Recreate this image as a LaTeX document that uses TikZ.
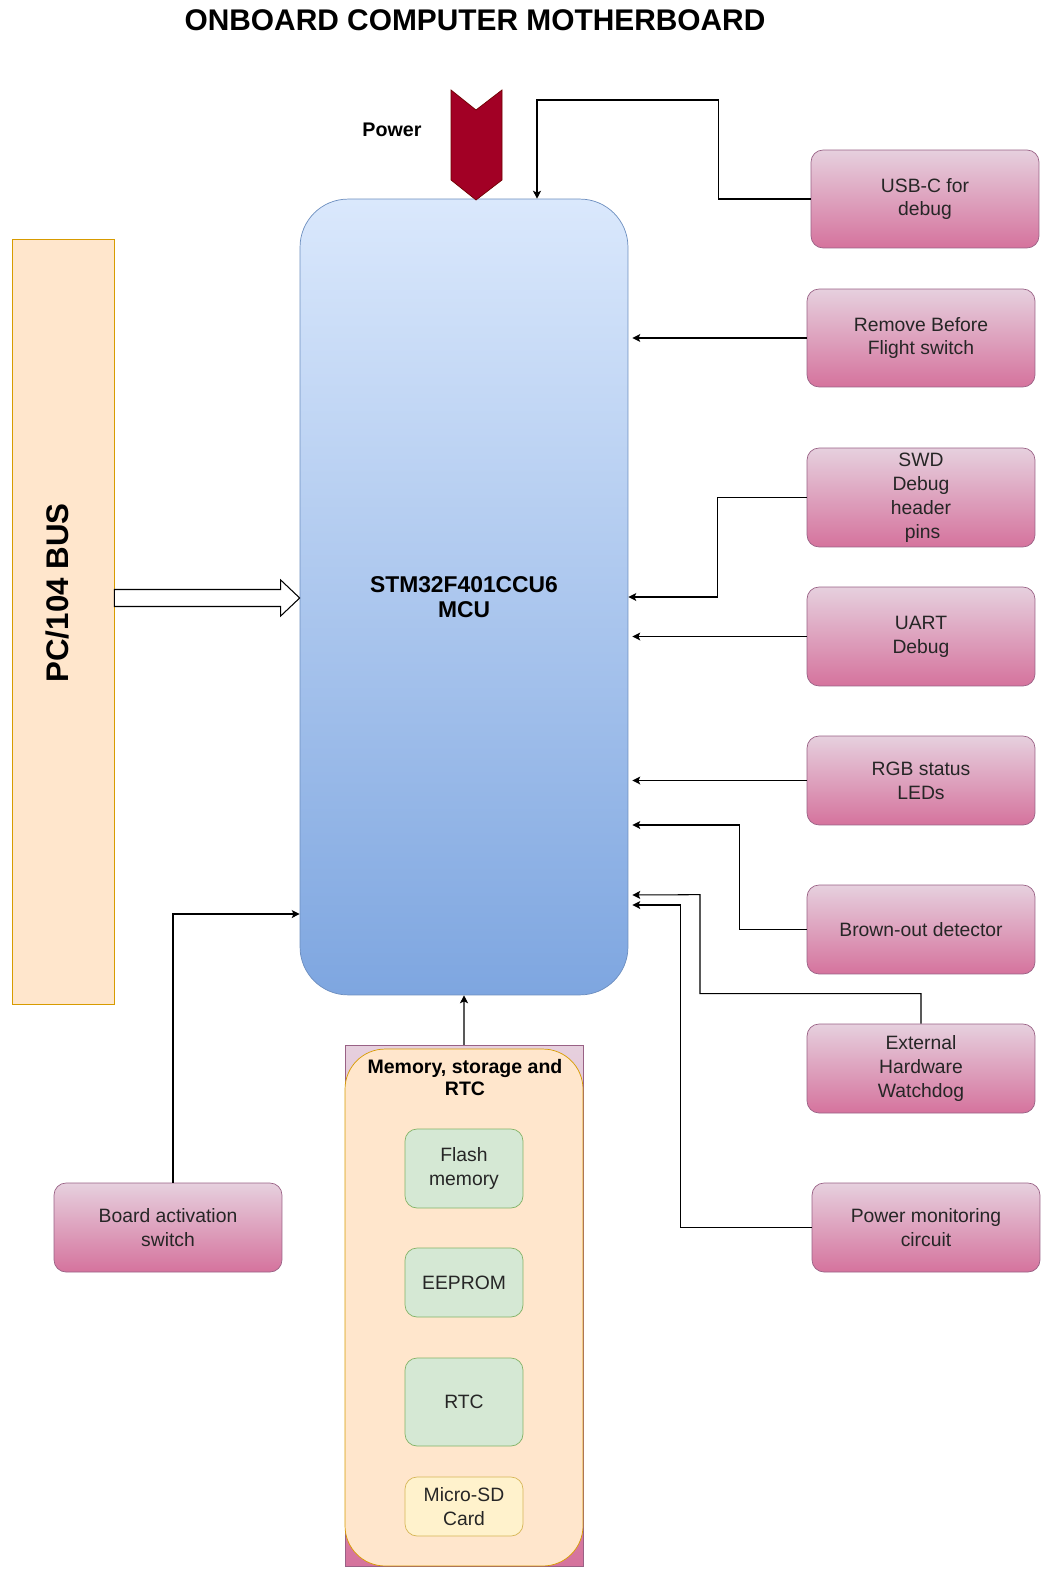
\documentclass[tikz,border=0pt]{standalone}
\usepackage{fontspec}
\setmainfont{Liberation Sans}
\usetikzlibrary{arrows.meta,calc}
\definecolor{mcuTop}{HTML}{DAE8FC}
\definecolor{mcuBot}{HTML}{7EA6E0}
\definecolor{mcuLine}{HTML}{6C8EBF}
\definecolor{pinkTop}{HTML}{E6D0DE}
\definecolor{pinkBot}{HTML}{D5739D}
\definecolor{pinkLine}{HTML}{996185}
\definecolor{orFill}{HTML}{FFE6CC}
\definecolor{orLine}{HTML}{D79B00}
\definecolor{grFill}{HTML}{D5E8D4}
\definecolor{grLine}{HTML}{82B366}
\definecolor{ylFill}{HTML}{FFF2CC}
\definecolor{ylLine}{HTML}{D6B656}
\definecolor{pwFill}{HTML}{A20025}
\definecolor{pwLine}{HTML}{6F0000}
\tikzset{
	txt/.style={font=\fontsize{11}{13.6}\selectfont,text=black!85,align=center},
	khung/.style={txt,draw=pinkLine,top color=pinkTop,bottom color=pinkBot,rounded corners=0.24cm,minimum width=4.56cm,inner sep=1pt},
	memkhung/.style={txt,rounded corners=0.24cm,minimum width=2.36cm,inner sep=1pt},
	muiten/.style={->,line width=0.6pt}
}
\begin{document}
\begin{tikzpicture}[>={Stealth[length=4.5pt,width=4.5pt,inset=1pt]},x=0.02cm,y=-0.02cm]
	\useasboundingbox (0,0) rectangle (1048,1577);
	%Tieu de
	\node (title) at (475,20) {\bfseries\fontsize{17}{20}\selectfont ONBOARD COMPUTER MOTHERBOARD};
	%Khung PC/104
	\node[draw=orLine,fill=orFill,minimum width=2.04cm,minimum height=15.3cm] (bus) at (63,621.5) {};
	\node[rotate=90,font=\bfseries\fontsize{17.8}{20}\selectfont] (buslabel) at (57,593) {PC/104 BUS};
	%Khung MCU
	\node[txt,draw=mcuLine,top color=mcuTop,bottom color=mcuBot,rounded corners=0.96cm,minimum width=6.56cm,minimum height=15.92cm,font=\bfseries\fontsize{13}{14.5}\selectfont,text=black] (mcu) at (464,597) {STM32F401CCU6\\MCU};
	%Power
	\draw[draw=pwLine,fill=pwFill] (451,90) -- (476,110) -- (502,90) -- (502,180) -- (476,200) -- (451,180) -- cycle;
	\node[font=\bfseries\fontsize{11.2}{13}\selectfont] (power) at (392,130) {Power};
	%Khung ben phai
	\node[khung,minimum height=1.96cm] (usb) at (925,199) {USB-C for\\ debug};
	\node[khung,minimum height=1.96cm] (rbf) at (921,338) {Remove Before\\Flight switch};
	\node[khung,minimum height=1.98cm] (swd) at (921,497.5) {SWD\\Debug\\header\\ \,pins};
	\node[khung,minimum height=1.98cm] (uart) at (921,636.5) {UART\\Debug};
	\node[khung,minimum height=1.78cm] (rgb) at (921,780.5) {RGB status\\ LEDs};
	\node[khung,minimum height=1.78cm] (bod) at (921,929.5) {Brown-out detector};
	\node[khung,minimum height=1.78cm] (wdt) at (921,1068.5) {External\\Hardware\\Watchdog};
	\node[khung,minimum height=1.78cm] (pmc) at (926,1227.5) {Power monitoring\\circuit};
	\node[khung,minimum height=1.78cm] (bas) at (168,1227.5) {Board activation\\switch};
	%Khung bo nho
	\node[draw=pinkLine,top color=pinkTop,bottom color=pinkBot,minimum width=4.76cm,minimum height=10.42cm] (mem) at (464,1305.5) {};
	\node[draw=orLine,fill=orFill,rounded corners=0.8cm,minimum width=4.76cm,minimum height=10.34cm] (memin) at (464,1307.5) {};
	\node[txt,text=black,font=\bfseries\fontsize{11.1}{13}\selectfont] (memtitle) at (465,1077.5) {Memory, storage and\\RTC};
	\node[memkhung,draw=grLine,fill=grFill,minimum height=1.58cm] (flash) at (464,1168.5) {Flash\\memory};
	\node[memkhung,draw=grLine,fill=grFill,minimum height=1.38cm] (eeprom) at (464,1282.5) {EEPROM};
	\node[memkhung,draw=grLine,fill=grFill,minimum height=1.76cm] (rtc) at (464,1402) {RTC};
	\node[memkhung,draw=ylLine,fill=ylFill,minimum height=1.18cm] (sd) at (464,1506.5) {Micro-SD\\Card};
	%Mui ten PC/104
	\coordinate (ba) at (bus.east |- 0,598);
	\coordinate (bb) at (mcu.west |- 0,598);
	\draw[line width=0.6pt,fill=white] ($(ba)+(0,-8.5)$) -- ($(bb)+(-19,-8.5)$) -- ($(bb)+(-19,-18)$) -- (bb) -- ($(bb)+(-19,18)$) -- ($(bb)+(-19,8.5)$) -- ($(ba)+(0,8.5)$) -- cycle;
	%Mui ten ben phai
	\draw[muiten] (usb.west) -| ++(-92,-99) -| ($(mcu.north)+(73,0)$);
	\draw[muiten] (rbf.west) -- ($(mcu.east |- rbf.west)+(4,0)$);
	\draw[muiten] (swd.west) -- ++(-89,0) |- (mcu.east);
	\draw[muiten] (uart.west) -- ($(mcu.east |- uart.west)+(4,0)$);
	\draw[muiten] (rgb.west) -- ($(mcu.east |- rgb.west)+(4,0)$);
	\draw[muiten] (bod.west) -- ++(-67,0) |- ($(mcu.east)+(4,228)$);
	\draw[muiten] (wdt.north) -- ++(0,-30) -| ++(-221,-99) -- ($(mcu.east)+(4,298)$);
	\draw[muiten] (pmc.west) -- ++(-131,0) |- ($(mcu.east)+(4,308)$);
	%Mui ten ben trai va duoi
	\draw[muiten] ($(bas.north)+(5,0)$) |- ($(mcu.west)+(0,317)$);
	\draw[line width=0.6pt,draw=black!65,-{Stealth[length=4.5pt,width=4.5pt,inset=1pt,color=black]}] (mem.north) -- (mcu.south);
\end{tikzpicture}
\end{document}
